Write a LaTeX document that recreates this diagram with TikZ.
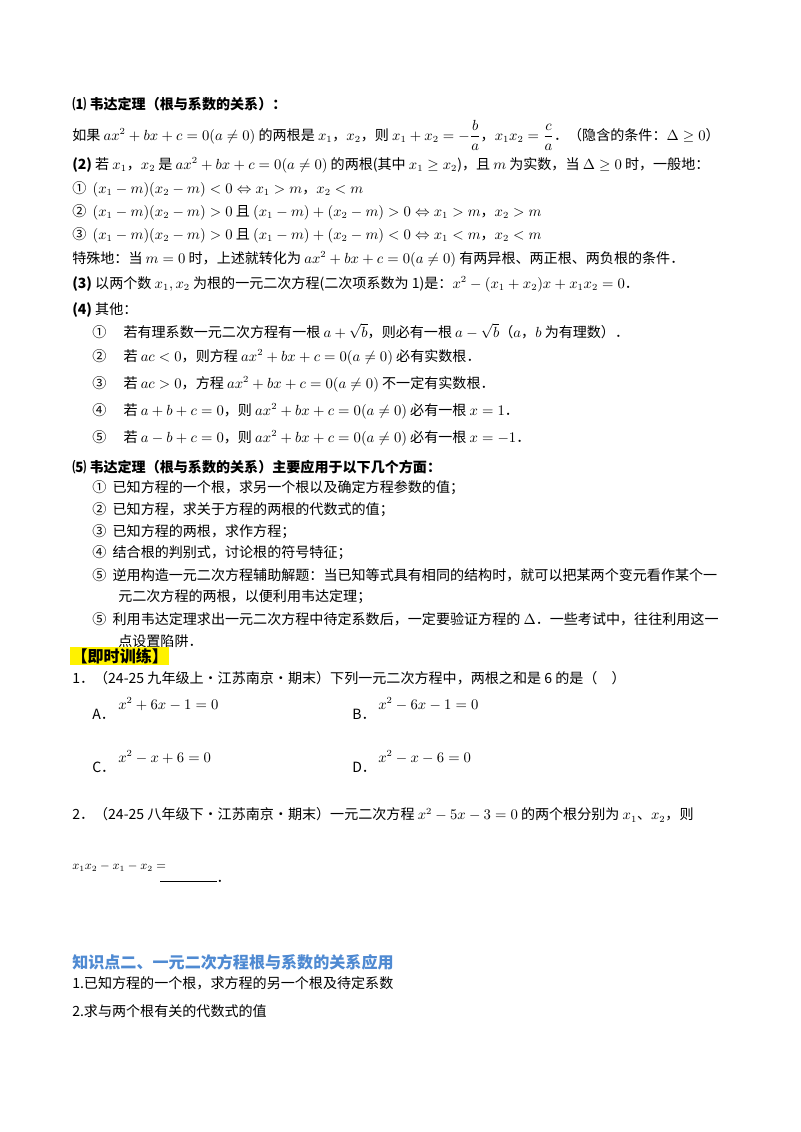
\documentclass[tikz,border=0pt]{standalone}
\usepackage{amsmath,amssymb}
\usepackage{fontspec}
\setmainfont{Noto Sans CJK SC}
\definecolor{hdblue}{RGB}{79,138,210}
\begin{document}
\begin{tikzpicture}[x=0.02625cm,y=-0.02625cm,
  t/.style={anchor=west,inner sep=0pt,font=\fontsize{10.5}{12}\selectfont},
  hb/.style={t,font=\fontsize{10.5}{12}\selectfont\bfseries}]
\useasboundingbox (0,0) rectangle (800,1132);
\fill[white] (0,0) rectangle (800,1132);
\node[hb] (h1) at (72,104) {⑴ 韦达定理（根与系数的关系）：};
\node[t] (l1) at (72,135) {如果 $ax^2+bx+c=0(a\neq0)$ 的两根是 $x_1$，$x_2$，则 $x_1+x_2=-\dfrac{b}{a}$，$x_1x_2=\dfrac{c}{a}$．（隐含的条件：$\Delta\ge0$）};
\node[t] (l2) at (72,165) {\textbf{(2)} 若 $x_1$，$x_2$ 是 $ax^2+bx+c=0(a\neq0)$ 的两根(其中 $x_1\ge x_2$)，且 $m$ 为实数，当 $\Delta\ge0$ 时，一般地：};
\node[t] (l3) at (72,189) {① \ $(x_1-m)(x_2-m)<0\Leftrightarrow x_1>m$，$x_2<m$};
\node[t] (l4) at (72,212) {② \ $(x_1-m)(x_2-m)>0$ 且 $(x_1-m)+(x_2-m)>0\Leftrightarrow x_1>m$，$x_2>m$};
\node[t] (l5) at (72,235) {③ \ $(x_1-m)(x_2-m)>0$ 且 $(x_1-m)+(x_2-m)<0\Leftrightarrow x_1<m$，$x_2<m$};
\node[t] (l6) at (72,259) {特殊地：当 $m=0$ 时，上述就转化为 $ax^2+bx+c=0(a\neq0)$ 有两异根、两正根、两负根的条件．};
\node[t] (l7) at (72,284) {\textbf{(3)} 以两个数 $x_1,x_2$ 为根的一元二次方程(二次项系数为 1)是：$x^2-(x_1+x_2)x+x_1x_2=0$．};
\node[t] (l8) at (72,310) {\textbf{(4)} 其他：};
\node[t] (m1) at (92,331) {① \quad 若有理系数一元二次方程有一根 $a+\sqrt{b}$，则必有一根 $a-\sqrt{b}$（$a$，$b$ 为有理数）．};
\node[t] (m2) at (92,357) {② \quad 若 $ac<0$，则方程 $ax^2+bx+c=0(a\neq0)$ 必有实数根．};
\node[t] (m3) at (92,384) {③ \quad 若 $ac>0$，方程 $ax^2+bx+c=0(a\neq0)$ 不一定有实数根．};
\node[t] (m4) at (92,411) {④ \quad 若 $a+b+c=0$，则 $ax^2+bx+c=0(a\neq0)$ 必有一根 $x=1$．};
\node[t] (m5) at (92,438) {⑤ \quad 若 $a-b+c=0$，则 $ax^2+bx+c=0(a\neq0)$ 必有一根 $x=-1$．};
\node[hb] (h5) at (72,467) {⑸ 韦达定理（根与系数的关系）主要应用于以下几个方面：};
\node[t] (n1) at (92,488) {① \ 已知方程的一个根，求另一个根以及确定方程参数的值；};
\node[t] (n2) at (92,510) {② \ 已知方程，求关于方程的两根的代数式的值；};
\node[t] (n3) at (92,532) {③ \ 已知方程的两根，求作方程；};
\node[t] (n4) at (92,553) {④ \ 结合根的判别式，讨论根的符号特征；};
\node[t] (n5) at (92,575) {⑤ \ 逆用构造一元二次方程辅助解题：当已知等式具有相同的结构时，就可以把某两个变元看作某个一};
\node[t] (n5b) at (118,597) {元二次方程的两根，以便利用韦达定理；};
\node[t] (n6) at (92,619) {⑤ \ 利用韦达定理求出一元二次方程中待定系数后，一定要验证方程的 $\Delta$．一些考试中，往往利用这一};
\node[t] (n6b) at (118,641) {点设置陷阱．};
\node[hb,fill=yellow,inner sep=1pt,font=\fontsize{12}{14}\selectfont\bfseries] (tr) at (70,656) {【即时训练】};
\node[t] (q1) at (72,678) {1．（24-25 九年级上·江苏南京·期末）下列一元二次方程中，两根之和是 6 的是（\quad）};
\node[t] (qa) at (92,714) {A．};
\node[t] (qae) at (118,704) {$x^2+6x-1=0$};
\node[t] (qb) at (352,714) {B．};
\node[t] (qbe) at (378,704) {$x^2-6x-1=0$};
\node[t] (qc) at (92,767) {C．};
\node[t] (qce) at (118,757) {$x^2-x+6=0$};
\node[t] (qd) at (352,767) {D．};
\node[t] (qde) at (378,757) {$x^2-x-6=0$};
\node[t] (q2) at (72,815) {2．（24-25 八年级下·江苏南京·期末）一元二次方程 $x^2-5x-3=0$ 的两个根分别为 $x_1$、$x_2$，则};
\node[t,font=\fontsize{9}{10}\selectfont] (q2e) at (72,867) {$x_1x_2-x_1-x_2=$};
\node[t] (blank) at (160,881) {\rule{42pt}{0.6pt}．};
\node[t,text=hdblue,font=\fontsize{12}{14}\selectfont\bfseries] (k2) at (72,962) {知识点二、一元二次方程根与系数的关系应用};
\node[t] (k21) at (72,983) {1.已知方程的一个根，求方程的另一个根及待定系数};
\node[t] (k22) at (72,1011) {2.求与两个根有关的代数式的值};
\end{tikzpicture}
\end{document}
